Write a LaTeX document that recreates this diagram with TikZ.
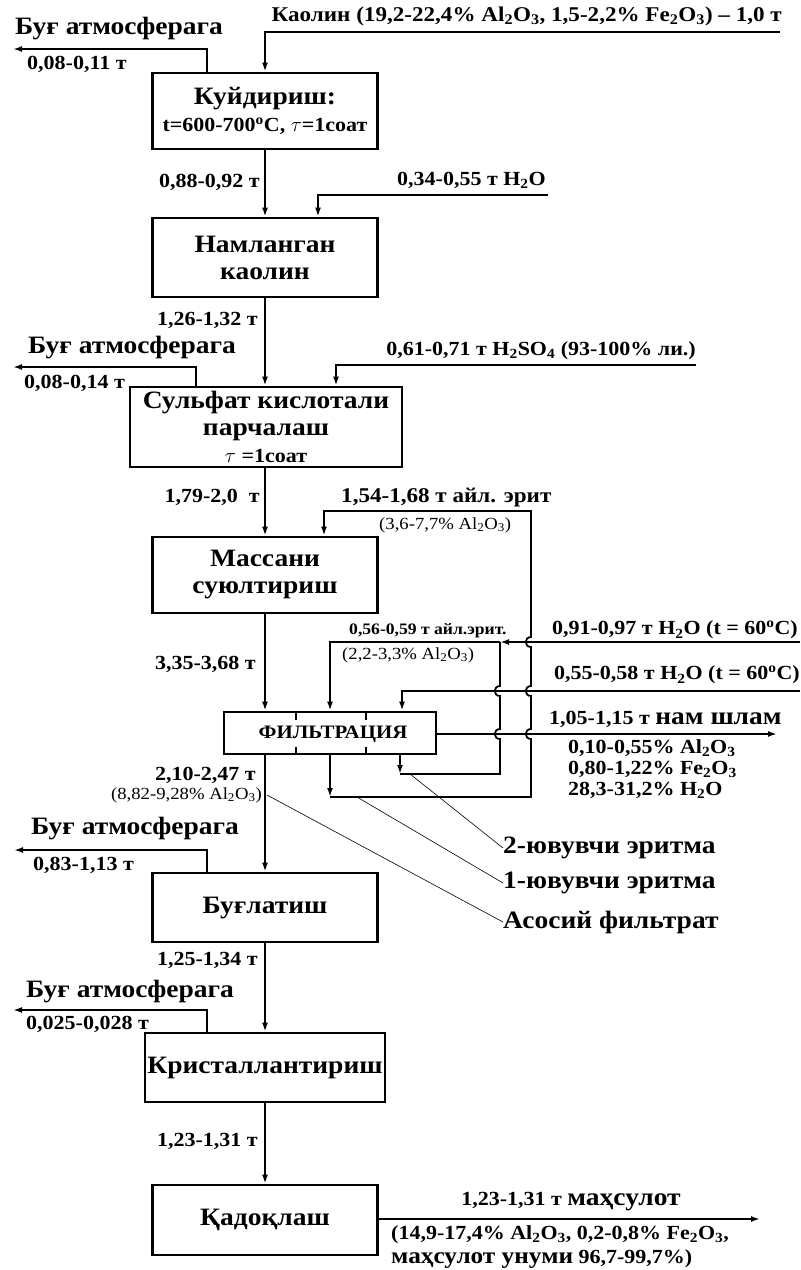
\documentclass[tikz,border=0pt]{standalone}
\usepackage{fontspec}
\setmainfont[FakeStretch=1.1]{Liberation Serif}
\usetikzlibrary{arrows.meta}
\tikzstyle{block} = [draw,line width=2.8pt,align=center,inner sep=0pt,font=\bfseries\fontsize{25}{27}\selectfont]
\tikzstyle{flow} = [line width=1.8pt]
\tikzstyle{arr} = [flow,-{Latex[length=9pt,width=6pt]}]
\tikzstyle{big} = [inner sep=0pt,font=\bfseries\fontsize{25}{26}\selectfont]
\tikzstyle{amt} = [inner sep=0pt,font=\bfseries\fontsize{20}{21}\selectfont]
\tikzstyle{mid} = [inner sep=0pt,font=\bfseries\fontsize{21}{21}\selectfont]
\tikzstyle{tiny} = [inner sep=0pt,font=\fontsize{17}{18}\selectfont]
\tikzstyle{lead} = [line width=0.6pt]
\newcommand{\ix}[1]{\textsubscript{#1}}
\newcommand{\gr}{\textsuperscript{o}}

\begin{document}
\begin{tikzpicture}[x=1pt,y=-1pt]
\useasboundingbox (0,0) rectangle (801,1270);

\node[block,minimum width=225pt,minimum height=76pt] (kuy) at (265,111) {Куйдириш:\\{\fontsize{20}{21}\selectfont t=600-700\gr C, $\tau$=1соат}};
\node[block,minimum width=225pt,minimum height=79pt] (nam) at (265,257.5) {Намланган\\каолин};
\node[block,minimum width=272pt,minimum height=80pt] (sulf) at (266,427) {Сульфат кислотали\\парчалаш\\{\fontsize{20}{21}\selectfont $\tau$ =1соат}};
\node[block,minimum width=225pt,minimum height=76pt] (massa) at (265,575) {Массани\\суюлтириш};
\node[block,minimum width=212pt,minimum height=42pt] (filtr) at (330,733) {};
\node[font=\bfseries\fontsize{19}{20}\selectfont,inner sep=0pt] (ftxt) at (333,734) {ФИЛЬТРАЦИЯ};
\node[block,minimum width=225pt,minimum height=69pt] (bugl) at (265,907.5) {Буғлатиш};
\node[block,minimum width=240pt,minimum height=69pt] (krist) at (265,1067.5) {Кристаллантириш};
\node[block,minimum width=225pt,minimum height=70pt] (qad) at (265,1220) {Қадоқлаш};

\draw[line width=2pt] ([xshift=-34pt]filtr.north) -- ++(0,9);
\draw[line width=2pt] ([xshift=-34pt]filtr.south) -- ++(0,-8);
\draw[line width=2pt] ([xshift=36pt]filtr.north) -- ++(0,9);
\draw[line width=2pt] ([xshift=36pt]filtr.south) -- ++(0,-8);

\node[big] (bug1) at (119,29) {Буғ атмосферага};
\node[big] (bug2) at (132,348) {Буғ атмосферага};
\node[big] (bug3) at (135,829) {Буғ атмосферага};
\node[big] (bug4) at (130,992) {Буғ атмосферага};
\node[amt,anchor=west] (bm1) at (27,64) {0,08-0,11 т};
\node[amt,anchor=west] (bm2) at (24,383) {0,08-0,14 т};
\node[amt,anchor=west] (bm3) at (33,865) {0,83-1,13 т};
\node[amt,anchor=west] (bm4) at (26,1024) {0,025-0,028 т};

\node[mid,anchor=east] (kaol) at (782,16) {Каолин (19,2-22,4\% Al\ix2O\ix3, 1,5-2,2\% Fe\ix2O\ix3) -- 1,0 т};
\node[amt,anchor=east] (suv1) at (546,180) {0,34-0,55 т H\ix2O};
\node[amt,anchor=east] (kisl) at (696,351) {0,61-0,71 т H\ix2SO\ix4 (93-100\% ли.)};
\node[mid,anchor=west] (ayl1) at (341,497) {1,54-1,68 т айл. эрит};
\node[tiny,anchor=west] (ayl1a) at (379,525) {(3,6-7,7\% Al\ix2O\ix3)};
\node[tiny,font=\bfseries\fontsize{16}{17}\selectfont,anchor=west] (ayl2) at (349,631) {0,56-0,59 т айл.эрит.};
\node[tiny,anchor=west] (ayl2a) at (342,655) {(2,2-3,3\% Al\ix2O\ix3)};
\node[amt,anchor=east] (suv2) at (798,630) {0,91-0,97 т H\ix2O (t = 60\gr C)};
\node[amt,anchor=east] (suv3) at (800,675) {0,55-0,58 т H\ix2O (t = 60\gr C)};
\node[amt,anchor=west] (shlam) at (549,719) {1,05-1,15 т {\fontsize{25}{26}\selectfont нам шлам}};
\node[mid,anchor=north west,align=left,font=\bfseries\fontsize{20}{21}\selectfont] (shsost) at (568,739) {0,10-0,55\% Al\ix2O\ix3\\0,80-1,22\% Fe\ix2O\ix3\\28,3-31,2\% H\ix2O};
\node[big,anchor=west] (yuv2) at (503,848) {2-ювувчи эритма};
\node[big,anchor=west] (yuv1) at (503,883) {1-ювувчи эритма};
\node[big,anchor=west] (asos) at (503,922) {Асосий фильтрат};

\node[amt,anchor=east] (q1) at (260,182) {0,88-0,92 т};
\node[amt,anchor=east] (q2) at (258,320) {1,26-1,32 т};
\node[amt,anchor=east] (q3) at (260,497) {1,79-2,0~~т};
\node[amt,anchor=east] (q4) at (256,664) {3,35-3,68 т};
\node[amt,anchor=east] (q5) at (256,775) {2,10-2,47 т};
\node[tiny,anchor=east] (q5a) at (262,795) {(8,82-9,28\% Al\ix2O\ix3)};
\node[amt,anchor=east] (q6) at (258,960) {1,25-1,34 т};
\node[amt,anchor=east] (q7) at (258,1141) {1,23-1,31 т};

\node[amt] (mah) at (571,1202) {1,23-1,31 т {\fontsize{25}{26}\selectfont маҳсулот}};
\node[amt,anchor=north west,align=left,font=\bfseries\fontsize{20}{24}\selectfont] (mahsost) at (391,1225) {(14,9-17,4\% Al\ix2O\ix3, 0,2-0,8\% Fe\ix2O\ix3,\\{\fontsize{23}{24}\selectfont маҳсулот унуми} 96,7-99,7\%)};

\coordinate (kin) at (780,32);
\coordinate (w1) at (548,195);
\coordinate (w2) at (696,365);
\coordinate (w3) at (800,642);
\coordinate (w4) at (800,691);
\coordinate (slm) at (777,734);
\coordinate (prod) at (760,1219);
\coordinate (v1) at (13,49);
\coordinate (v2) at (13,367);
\coordinate (v3) at (14,850);
\coordinate (v4) at (13,1010);
\coordinate (o1) at (330,797);
\coordinate (o2) at (531,797);
\coordinate (r1) at (531,511);
\coordinate (i1) at (400,774);
\coordinate (i2) at (500,642);
\coordinate (l1) at (267,795);
\coordinate (l2) at (357,797);
\coordinate (l3) at (410,774);

\draw[arr] (kin) -| (kuy.north);
\draw[arr] ([xshift=-58pt]kuy.north) |- (v1);
\draw[arr] (kuy.south) -- (nam.north);
\draw[arr] (w1) -| ([xshift=53pt]nam.north);
\draw[arr] (nam.south) -- (nam.south |- sulf.north);
\draw[arr] (w2) -| ([xshift=70pt]sulf.north);
\draw[arr] ([xshift=-70pt]sulf.north) |- (v2);
\draw[arr] (sulf.south -| massa.north) -- (massa.north);
\draw[arr] (massa.south) -- (massa.south |- filtr.north);
\draw[arr] (filtr.south -| bugl.north) -- (bugl.north);
\draw[arr] ([xshift=-58pt]bugl.north) |- (v3);
\draw[arr] (bugl.south) -- (krist.north);
\draw[arr] ([xshift=-58pt]krist.north) |- (v4);
\draw[arr] (krist.south) -- (qad.north);
\draw[arr] (qad.east |- prod) -- (prod);

\draw[arr] (filtr.south) -- (o1);
\draw[arr] (o1) -- (o2) -- (531,739) .. controls (524,739) and (524,729) .. (531,729) -- (531,696) .. controls (524,696) and (524,686) .. (531,686) -- (531,647) .. controls (524,647) and (524,637) .. (531,637) -- (r1) -| ([xshift=59pt]massa.north);
\draw[arr] ([xshift=70pt]filtr.south) -- (i1);
\draw[flow] (i1) -- (500,774) -- (500,739) .. controls (493,739) and (493,729) .. (500,729) -- (500,696) .. controls (493,696) and (493,686) .. (500,686) -- (i2);
\draw[arr] (w3) -- (i2);
\draw[arr] (i2) -| (filtr.north);
\draw[arr] (w4) -| ([xshift=72pt]filtr.north);
\draw[arr] (filtr.east |- slm) -- (slm);

\draw[lead] (l1) -- (asos.west);
\draw[lead] (l2) -- (yuv1.west);
\draw[lead] (l3) -- (yuv2.west);
\end{tikzpicture}
\end{document}
